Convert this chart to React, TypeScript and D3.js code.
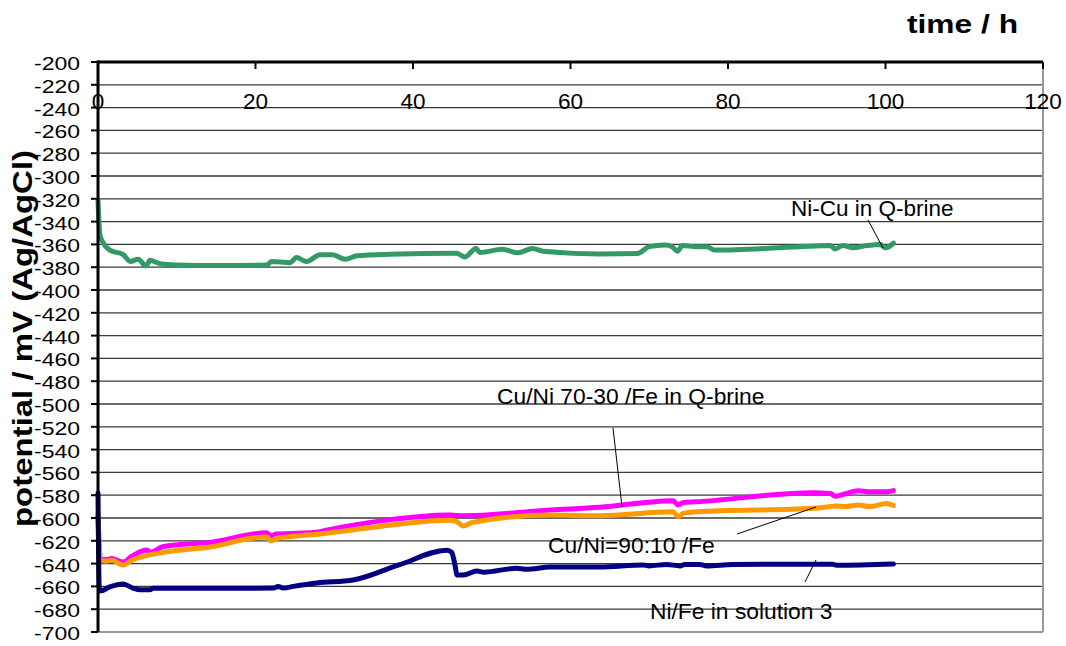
import React from "react";
import * as d3 from "d3";

const W = 1066;
const H = 646;

const xTicks = [0, 20, 40, 60, 80, 100, 120];
const yTicks = d3.range(-200, -701, -20);

const greenT = [0, 0.25, 0.6, 1.5, 3.2, 4.1, 5.1, 6.1, 6.6, 7.9, 10, 15, 21.5, 22, 24.4, 25.2, 26.5, 28.2, 29.8, 31.4, 32.9, 37, 45.5, 46.6, 48, 48.5, 51.4, 53.3, 55.2, 56.5, 63.7, 68.5, 70, 72, 72.9, 73.6, 74.2, 76, 77.3, 78.3, 89, 93, 93.6, 94.6, 95.9, 97.6, 99.3, 100, 101];
const greenV = [-322, -352, -358, -365, -369, -375, -373, -379, -374, -377, -378, -378.5, -378, -375, -376, -371.6, -375, -369, -369, -373, -370, -368.7, -367.8, -371, -363.5, -367, -364.3, -367.4, -363.5, -366, -368.4, -368, -362, -360.5, -362, -366, -361, -362, -362, -365, -362, -361, -364, -361, -363, -361, -360, -363, -359];

const navyT = [0, 0.15, 0.3, 1.5, 3.2, 4.5, 5.3, 6.6, 7, 15, 22.3, 22.9, 23.5, 24.8, 27.8, 32.4, 38.3, 44.3, 44.9, 45.3, 45.6, 46.4, 48.1, 49, 53.2, 54.4, 57.4, 63.7, 69.2, 70, 72.2, 73.9, 74.5, 76.4, 77.3, 80.6, 93.3, 93.8, 101];
const navyV = [-578, -660, -664, -660.5, -658, -661.7, -663, -663, -661.7, -661.7, -661.5, -660, -661.5, -660, -657, -654.4, -641, -628.3, -630, -640, -650, -650, -646.5, -647.5, -644, -645, -643, -643, -641.2, -642, -640.7, -642, -640.7, -640.7, -642, -640.7, -640.5, -641.5, -640.4];

const pinkT = [0, 0.3, 1.1, 1.7, 3.2, 4.3, 6.2, 6.6, 8.3, 14.6, 21.4, 22, 22.6, 24.8, 28.2, 29.5, 36.2, 44.7, 46.4, 57.4, 63.7, 73, 73.7, 74.2, 76, 90.8, 93, 93.6, 95, 96.5, 98, 100.1, 101];
const pinkV = [-598, -636, -636.5, -635.6, -638.6, -633.5, -628, -630, -625, -621, -613, -616, -614, -613.6, -612, -610, -602.3, -597.4, -598, -593, -590.6, -584.8, -588.5, -586.5, -585.8, -577.8, -578.5, -581, -578.5, -576, -577, -577, -576];

const orangeT = [0, 0.3, 1.1, 1.7, 3.2, 4.3, 6.2, 8.3, 14.6, 19.3, 21.4, 22, 22.6, 24.8, 28.2, 36.2, 44.7, 45.5, 46.4, 47.5, 57.4, 63.7, 73, 73.7, 74.3, 76, 90.8, 93, 93.6, 95, 96.5, 98, 100.1, 101];
const orangeV = [-596, -637, -638, -637, -641.3, -637, -633, -630, -625, -618, -616.6, -620, -618, -616, -614, -607, -602, -603, -607, -604, -597.4, -598, -594.6, -598.8, -596, -594.6, -591.5, -590, -589.5, -590, -588.6, -590, -587.3, -589];

const seriesNames = ["Ni-Cu in Q-brine", "Ni/Fe in solution 3", "Cu/Ni 70-30 /Fe in Q-brine", "Cu/Ni=90:10 /Fe"];
const seriesColors = ["#339966", "#000080", "#FF00FF", "#FF9900"];

export default function App() {
  const x = d3.scaleLinear().domain([0, 120]).range([98, 1043]);
  const y = d3.scaleLinear().domain([-700, -200]).range([632, 62]);
  const line = d3
    .line<[number, number]>()
    .x((d) => x(d[0]))
    .y((d) => y(d[1]))
    .curve(d3.curveMonotoneX);

  const series = [
    { t: pinkT, v: pinkV, c: seriesColors[2] },
    { t: orangeT, v: orangeV, c: seriesColors[3] },
    { t: navyT, v: navyV, c: seriesColors[1] },
    { t: greenT, v: greenV, c: seriesColors[0] },
  ];

  const font = "'Liberation Sans', Arial, sans-serif";

  return (
    <svg
      width={W}
      height={H}
      style={{ position: "absolute", left: 0, top: 0, background: "#fff" }}
      fontFamily={font}
    >
      <rect x={0} y={0} width={W} height={H} fill="#fff" />
      {/* gridlines */}
      {yTicks.slice(1, -1).map((v) => (
        <line key={v} x1={x(0)} x2={x(120)} y1={y(v)} y2={y(v)} stroke="#3a3a3a" strokeWidth={1.3} />
      ))}
      {/* plot border right & bottom */}
      <line x1={x(120)} x2={x(120)} y1={y(-200)} y2={y(-700)} stroke="#999" strokeWidth={2} />
      <line x1={x(0)} x2={x(120)} y1={y(-700)} y2={y(-700)} stroke="#999" strokeWidth={2} />

      {/* series */}
      {series.map((s, i) => (
        <path
          key={i}
          d={line(s.t.map((t, k) => [t, s.v[k]] as [number, number])) || ""}
          fill="none"
          stroke={s.c}
          strokeWidth={5}
          strokeLinejoin="round"
          strokeLinecap="round"
        />
      ))}

      {/* axes */}
      <line x1={x(0)} x2={x(120)} y1={y(-200)} y2={y(-200)} stroke="#000" strokeWidth={3} />
      {xTicks.map((t) => (
        <line key={t} x1={x(t)} x2={x(t)} y1={y(-200)} y2={y(-200) + 7} stroke="#000" strokeWidth={2} />
      ))}
      <line x1={x(0)} x2={x(0)} y1={y(-200) - 1.5} y2={y(-700)} stroke="#000" strokeWidth={3} />
      {yTicks.map((v) => (
        <line key={v} x1={x(0) - 7} x2={x(0)} y1={y(v)} y2={y(v)} stroke="#000" strokeWidth={2} />
      ))}

      {/* tick labels */}
      {xTicks.map((t) => (
        <text key={t} x={x(t)} y={109} fontSize={22.5} textAnchor="middle" fill="#000">
          {t}
        </text>
      ))}
      {yTicks.map((v) => (
        <text
          key={v}
          x={80}
          y={y(v) + 8}
          fontSize={19}
          textAnchor="end"
          textLength={46}
          lengthAdjust="spacingAndGlyphs"
          fill="#000"
        >
          {v}
        </text>
      ))}

      {/* axis titles */}
      <text x={907} y={33} fontSize={25} fontWeight="bold" textLength={111} lengthAdjust="spacingAndGlyphs">
        time  / h
      </text>
      <text
        transform="translate(32,527) rotate(-90)"
        x={0}
        y={0}
        fontSize={27}
        fontWeight="bold"
        textLength={377}
        lengthAdjust="spacingAndGlyphs"
      >
        potential  / mV  (Ag/AgCl)
      </text>

      {/* annotations */}
      <text x={791} y={216} fontSize={22.5}>{seriesNames[0]}</text>
      <line x1={868} y1={220} x2={883} y2={248} stroke="#000" strokeWidth={1} />

      <text x={497} y={404} fontSize={22.8}>{seriesNames[2]}</text>
      <line x1={613} y1={428} x2={622} y2={507} stroke="#000" strokeWidth={1} />

      <text x={548} y={553} fontSize={22.8}>{seriesNames[3]}</text>
      <line x1={737} y1={534} x2={816} y2={507} stroke="#000" strokeWidth={1} />

      <text x={650} y={619} fontSize={22.8}>{seriesNames[1]}</text>
      <line x1={805} y1={582} x2={816} y2={560} stroke="#000" strokeWidth={1} />
    </svg>
  );
}
